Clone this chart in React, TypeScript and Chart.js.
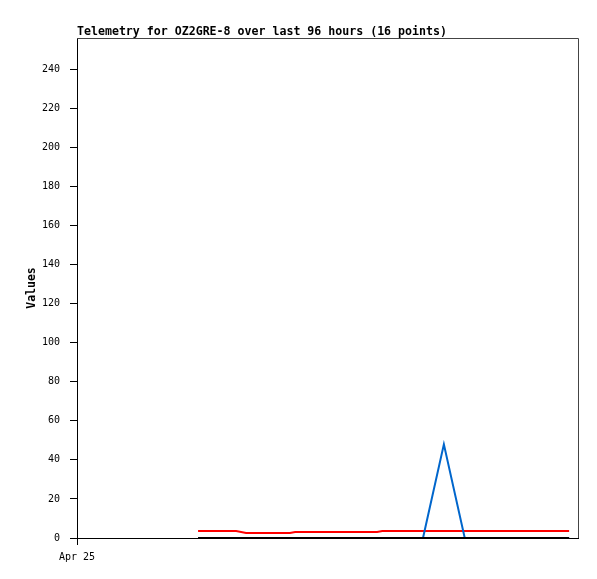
import React, { useEffect, useRef } from "react";
import { Chart, registerables } from "chart.js";

Chart.register(...registerables);

const TITLE = "Telemetry for OZ2GRE-8 over last 96 hours (16 points)";
const Y_LABEL = "Values";
const X_TICK_LABEL = "Apr 25";

// hours since Apr 25 00:00
const hours = [23.2, 27.5, 30.5, 32.4, 40.8, 41.8, 48, 53, 57.5, 58.5, 62, 66.3, 70.3, 74.3, 84, 94.3];
const seriesBlack = [0, 0, 0, 0, 0, 0, 0, 0, 0, 0, 0, 0, 0, 0, 0, 0];
const seriesBlue = [0, 0, 0, 0, 0, 0, 0, 0, 0, 0, 0, 0, 48, 0, 0, 0];
const seriesRed = [3.6, 3.6, 3.6, 2.6, 2.6, 3.1, 3.1, 3.1, 3.1, 3.6, 3.6, 3.6, 3.6, 3.6, 3.6, 3.6];
const yTicks = [0, 20, 40, 60, 80, 100, 120, 140, 160, 180, 200, 220, 240];

const FONT = "'DejaVu Sans Mono', monospace";

export default function App() {
  const ref = useRef<HTMLCanvasElement | null>(null);
  useEffect(() => {
    const canvas = ref.current!;
    const toPts = (arr: number[]) => hours.map((h, i) => ({ x: h, y: arr[i] }));
    const textPlugin = {
      id: "extraText",
      afterDraw(chart: any) {
        const ctx = chart.ctx;
        const a = chart.chartArea;
        ctx.save();
        ctx.strokeStyle = "#444444";
        ctx.lineWidth = 1;
        ctx.beginPath();
        ctx.moveTo(a.left, a.top + 0.5);
        ctx.lineTo(a.right + 0.5, a.top + 0.5);
        ctx.lineTo(a.right + 0.5, a.bottom);
        ctx.stroke();
        ctx.fillStyle = "#000";
        ctx.font = `bold 11.6px ${FONT}`;
        ctx.textAlign = "left";
        ctx.textBaseline = "alphabetic";
        ctx.fillText(TITLE, a.left, 35);
        ctx.translate(32, (a.top + a.bottom) / 2);
        ctx.rotate(-Math.PI / 2);
        ctx.textAlign = "center";
        ctx.textBaseline = "middle";
        ctx.font = `bold 11.5px ${FONT}`;
        ctx.fillText(Y_LABEL, 0, 0);
        ctx.restore();
      },
    };
    const chart = new Chart(canvas, {
      type: "line",
      data: {
        datasets: [
          { data: toPts(seriesBlack), borderColor: "#000000", borderWidth: 2, pointRadius: 0, tension: 0 },
          { data: toPts(seriesBlue), borderColor: "#0066cc", borderWidth: 2, pointRadius: 0, tension: 0 },
          { data: toPts(seriesRed), borderColor: "#ff0000", borderWidth: 2, pointRadius: 0, tension: 0 },
        ],
      },
      options: {
        animation: false,
        responsive: false,
        devicePixelRatio: 1,
        layout: { padding: { top: 38, right: 19, left: 0, bottom: 0 } },
        plugins: { legend: { display: false }, tooltip: { enabled: false }, title: { display: false } },
        scales: {
          x: {
            type: "linear",
            min: 0,
            max: 96,
            afterBuildTicks: (s: any) => {
              s.ticks = [{ value: 0 }];
            },
            afterFit: (s: any) => {
              s.height = 41;
            },
            grid: { drawOnChartArea: false, tickLength: 7, color: "#000" },
            border: { color: "#000", width: 1 },
            ticks: {
              color: "#000",
              font: { family: FONT, size: 10 },
              padding: 6,
              maxRotation: 0,
              callback: () => X_TICK_LABEL,
            },
          },
          y: {
            min: 0,
            max: 256,
            afterBuildTicks: (s: any) => {
              s.ticks = yTicks.map((v) => ({ value: v }));
            },
            afterFit: (s: any) => {
              s.width = 77;
            },
            grid: { drawOnChartArea: false, tickLength: 7, color: "#000" },
            border: { color: "#000", width: 1 },
            ticks: {
              color: "#000",
              font: { family: FONT, size: 10 },
              padding: 10,
            },
          },
        },
      },
      plugins: [textPlugin],
    } as any);
    return () => chart.destroy();
  }, []);
  return (
    <div style={{ position: "absolute", left: 0, top: 0, width: 597, height: 579, background: "#fff" }}>
      <canvas ref={ref} width={597} height={579} style={{ width: 597, height: 579 }} />
    </div>
  );
}
